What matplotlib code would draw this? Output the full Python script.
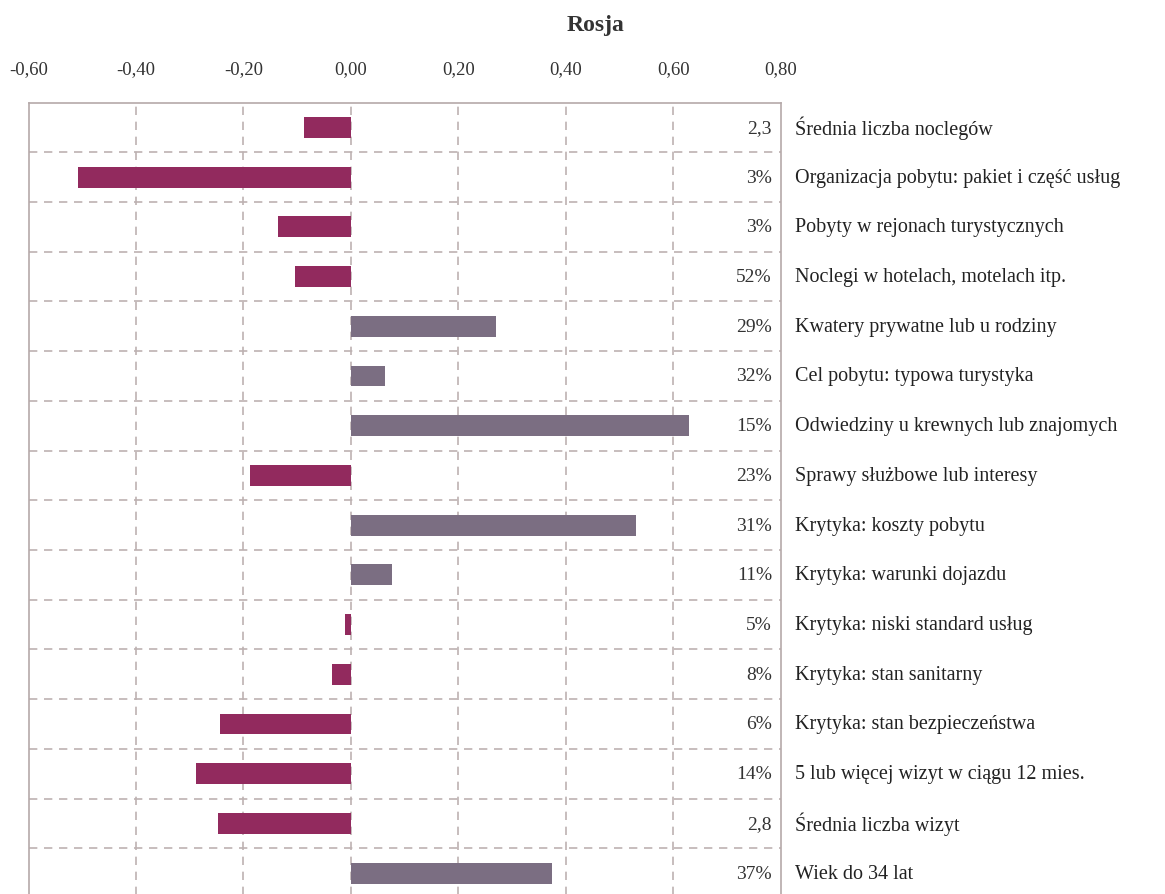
import matplotlib.pyplot as plt
import numpy as np

plt.rcParams['font.family'] = ['Liberation Serif', 'DejaVu Serif']

# categories top to bottom
categories = ['Średnia liczba noclegów',
              'Organizacja pobytu: pakiet i część usług',
              'Pobyty w rejonach turystycznych',
              'Noclegi w hotelach, motelach itp.',
              'Kwatery prywatne lub u rodziny',
              'Cel pobytu: typowa turystyka',
              'Odwiedziny u krewnych lub znajomych',
              'Sprawy służbowe lub interesy',
              'Krytyka: koszty pobytu',
              'Krytyka: warunki dojazdu',
              'Krytyka: niski standard usług',
              'Krytyka: stan sanitarny',
              'Krytyka: stan bezpieczeństwa',
              '5 lub więcej wizyt w ciągu 12 mies.',
              'Średnia liczba wizyt',
              'Wiek do 34 lat']
values = [-0.087, -0.507, -0.135, -0.105, 0.270, 0.064, 0.628, -0.187,
          0.531, 0.077, -0.012, -0.035, -0.243, -0.288, -0.247, 0.374]
shares = ['2,3', '3%', '3%', '52%', '29%', '32%', '15%', '23%',
          '31%', '11%', '5%', '8%', '6%', '14%', '2,8', '37%']
xticks = [-0.6, -0.4, -0.2, 0.0, 0.2, 0.4, 0.6, 0.8]

neg_color = '#922A5E'
pos_color = '#7B6E82'
grid_color = '#BDB1B1'

fig = plt.figure(figsize=(11.65, 8.95), dpi=100)
ax = fig.add_axes([28.5 / 1165, 1 - (103.5 + 16 * 49.72) / 895, 752.5 / 1165, 16 * 49.72 / 895])

n = len(categories)
y = np.arange(n)
colors = [neg_color if v < 0 else pos_color for v in values]
ax.barh(y, values, height=0.42, color=colors, zorder=3)

ax.set_xlim(-0.6, 0.8)
ax.set_ylim(n - 0.5, -0.5)

# grid lines
for xv in xticks[1:-1]:
    ax.axvline(xv, color=grid_color, linestyle=(0, (5, 4)), linewidth=1.2, zorder=1)
for k in range(1, n):
    ax.axhline(k - 0.5, color=grid_color, linestyle=(0, (5, 4)), linewidth=1.2, zorder=1)

for s in ['left', 'top', 'right']:
    ax.spines[s].set_color('#B5A9A9')
    ax.spines[s].set_linewidth(1.2)
ax.spines['bottom'].set_visible(False)

ax.xaxis.tick_top()
ax.set_xticks(xticks)
ax.set_xticklabels([f'{t:.2f}'.replace('.', ',') for t in xticks], fontsize=13.5, color='#333333')
ax.tick_params(axis='x', length=0, pad=18)
ax.set_yticks([])

for i in range(n):
    ax.text(0.783, i, shares[i], ha='right', va='center', fontsize=14, color='#333333', zorder=4)
    ax.text(0.826, i, categories[i], ha='left', va='center', fontsize=14.5, color='#222222',
            clip_on=False)

fig.text(596 / 1165, 1 - 25 / 895, 'Rosja', ha='center', va='center', fontsize=17,
         fontweight='bold', color='#333333')

fig.savefig('out.png', dpi=100)
